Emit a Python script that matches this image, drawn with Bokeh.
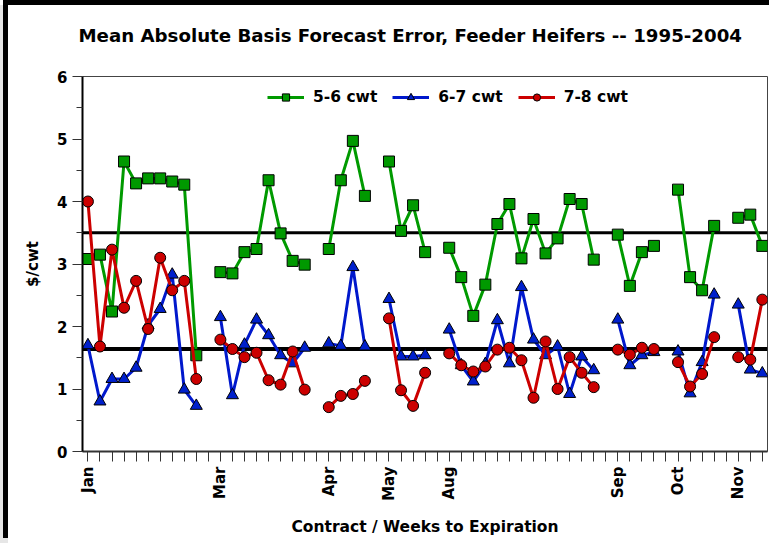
import math
import numpy as np
from bokeh.plotting import figure
from bokeh.models import Range1d, FixedTicker, Span, Legend, LegendItem, ColumnDataSource, Title
from bokeh.embed import file_html
from bokeh.resources import INLINE

# Category positions (weeks to expiration, grouped by contract); None = gap between contracts
weeks = list(range(57))
month_labels = ["Jan", "Mar", "Apr", "May", "Aug", "Sep", "Oct", "Nov"]
month_pos = [0, 11, 20, 25, 30, 44, 49, 54]

cwt_5_6 = [3.08, 3.15, 2.24, 4.64, 4.29, 4.37, 4.37, 4.32, 4.27, 1.54, None,
           2.87, 2.85, 3.19, 3.24, 4.34, 3.49, 3.05, 2.99, None,
           3.24, 4.34, 4.97, 4.09, None,
           4.64, 3.53, 3.94, 3.19, None,
           3.26, 2.79, 2.17, 2.67, 3.64, 3.96, 3.09, 3.72, 3.17, 3.41, 4.04, 3.96, 3.07, None,
           3.47, 2.65, 3.19, 3.29, None,
           4.19, 2.79, 2.58, 3.61, None,
           3.74, 3.79, 3.29]

cwt_6_7 = [1.70, 0.80, 1.16, 1.16, 1.34, 2.02, 2.28, 2.83, 0.99, 0.73, None,
           2.15, 0.90, 1.71, 2.11, 1.86, 1.54, 1.41, 1.66, None,
           1.73, 1.69, 2.95, 1.68, None,
           2.44, 1.52, 1.52, 1.54, None,
           1.95, 1.38, 1.12, 1.40, 2.10, 1.41, 2.63, 1.79, 1.54, 1.68, 0.92, 1.52, 1.30, None,
           2.11, 1.38, 1.54, 1.59, None,
           1.60, 0.93, 1.43, 2.51, None,
           2.35, 1.31, 1.25]

cwt_7_8 = [4.00, 1.68, 3.23, 2.30, 2.73, 1.96, 3.10, 2.58, 2.73, 1.16, None,
           1.79, 1.64, 1.51, 1.58, 1.14, 1.07, 1.60, 0.99, None,
           0.71, 0.89, 0.92, 1.13, None,
           2.13, 0.98, 0.73, 1.26, None,
           1.57, 1.38, 1.28, 1.36, 1.63, 1.66, 1.46, 0.86, 1.76, 1.00, 1.51, 1.26, 1.03, None,
           1.63, 1.55, 1.66, 1.64, None,
           1.43, 1.04, 1.24, 1.83, None,
           1.51, 1.47, 2.43]

ref_levels = [3.5, 1.64]
ref_widths = [3, 4]

FONT = "DejaVu Sans"
TITLE_TEXT = "Mean Absolute Basis Forecast Error, Feeder Heifers -- 1995-2004"

p = figure(width=766, height=538, output_backend="svg", toolbar_location=None,
           x_range=Range1d(-0.45, 56.43), y_range=Range1d(0, 6), title=None,
           min_border_left=74, min_border_right=7, min_border_top=71, min_border_bottom=92)
p.styles = {"margin-left": "8px", "margin-top": "5px", "overflow": "hidden",
            "box-shadow": "-5px -5px 0 0 black, -8px 0 0 0 #e6e6e6"}
p.border_fill_color = "white"
p.background_fill_color = "white"
p.xgrid.visible = False
p.ygrid.visible = False
p.outline_line_color = "#444444"
p.outline_line_width = 1

# spacer between frame and title, then the title itself
p.add_layout(Title(text=" ", text_font_size="2px", standoff=22), "above")
p.add_layout(Title(text=TITLE_TEXT, align="left", offset=-4, standoff=10,
                   text_font=FONT, text_font_style="bold", text_font_size="18.2px",
                   text_color="black"), "above")

for lvl, lw in zip(ref_levels, ref_widths):
    p.add_layout(Span(location=lvl, dimension="width", line_color="black", line_width=lw, level="underlay"))

src = ColumnDataSource(dict(
    x=weeks,
    a=np.array(cwt_5_6, dtype=float),
    b=np.array(cwt_6_7, dtype=float),
    c=np.array(cwt_7_8, dtype=float),
))

series = [
    ("a", "5-6 cwt", "#009a00", "#009900", "square", 11),
    ("b", "6-7 cwt", "#0018cc", "#0020cc", "triangle", 12),
    ("c", "7-8 cwt", "#cc0000", "#cc0000", "circle", 11),
]
items = []
for col, lab, lc, fc, mk, sz in series:
    ln = p.line("x", col, source=src, line_color=lc, line_width=3)
    sc = p.scatter("x", col, source=src, marker=mk, size=sz, fill_color=fc,
                   line_color="black", line_width=1)
    items.append(LegendItem(label=lab, renderers=[ln, sc]))

legend = Legend(items=items, orientation="horizontal", location=(185, 345),
                glyph_width=37, glyph_height=18, label_standoff=9, spacing=15,
                padding=0, margin=0, border_line_color=None, background_fill_alpha=0,
                label_text_font=FONT, label_text_font_style="bold",
                label_text_font_size="15.5px", label_text_color="black")
p.add_layout(legend)

# x axis
xa = p.xaxis[0]
xa.ticker = FixedTicker(ticks=weeks, minor_ticks=[])
overrides = {i: "" for i in weeks}
for m, pos in zip(month_labels, month_pos):
    overrides[pos] = m
xa.major_label_overrides = overrides
xa.major_label_orientation = math.pi / 2
xa.major_tick_out = 10
xa.major_tick_in = 0
xa.major_tick_line_color = "#333333"
xa.axis_line_width = 2
xa.axis_line_color = "#333333"
xa.major_label_standoff = 5
xa.major_label_text_font = FONT
xa.major_label_text_font_style = "bold"
xa.major_label_text_font_size = "15px"
xa.major_label_text_color = "black"
xa.axis_label = "Contract / Weeks to Expiration"
xa.axis_label_text_font = FONT
xa.axis_label_text_font_style = "bold"
xa.axis_label_text_font_size = "15.5px"
xa.axis_label_standoff = 14
xa.axis_label_text_color = "black"

# y axis
ya = p.yaxis[0]
ya.ticker = FixedTicker(ticks=[0, 1, 2, 3, 4, 5, 6], minor_ticks=[0.5, 1.5, 2.5, 3.5, 4.5, 5.5])
ya.major_tick_out = 10
ya.major_tick_in = 0
ya.minor_tick_out = 6
ya.minor_tick_in = 0
ya.major_tick_line_color = "#333333"
ya.minor_tick_line_color = "#333333"
ya.axis_line_width = 2
ya.axis_line_color = "black"
ya.major_label_standoff = 5
ya.major_label_text_font = FONT
ya.major_label_text_font_style = "bold"
ya.major_label_text_font_size = "15px"
ya.major_label_text_color = "black"
ya.axis_label = "$/cwt"
ya.axis_label_text_font = FONT
ya.axis_label_text_font_style = "bold"
ya.axis_label_text_font_size = "15px"
ya.axis_label_standoff = 12
ya.axis_label_text_color = "black"

open("out.html", "w").write(file_html(p, INLINE))
